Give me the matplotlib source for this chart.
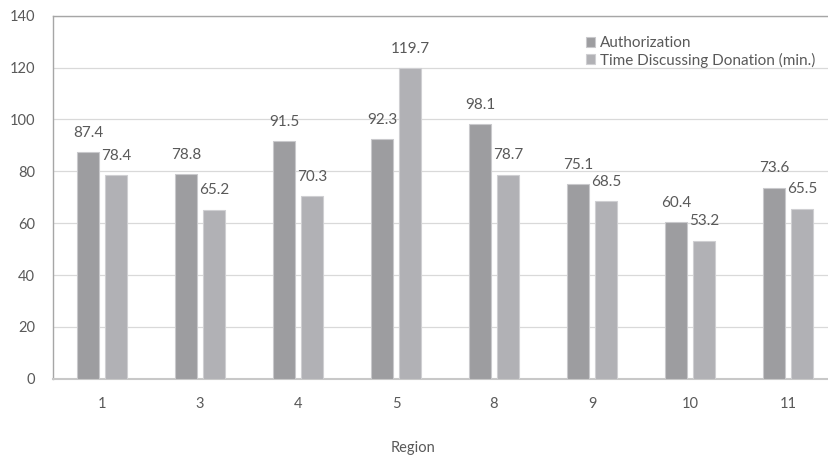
import numpy as np
import matplotlib
matplotlib.use("Agg")
from matplotlib import pyplot as plt

regions = ["1", "3", "4", "5", "8", "9", "10", "11"]
authorization = [87.4, 78.8, 91.5, 92.3, 98.1, 75.1, 60.4, 73.6]
time_discussing = [78.4, 65.2, 70.3, 119.7, 78.7, 68.5, 53.2, 65.5]

plt.rcParams['font.family'] = ['Lato', 'DejaVu Sans']
txt = '#595959'

fig = plt.figure(figsize=(8.29, 4.58), dpi=100)
ax = fig.add_axes([0.0639, 0.1731, 0.9457, 0.7926])

x = np.arange(len(regions))
w = 0.225
off = 0.143
b1 = ax.bar(x - off, authorization, w, color='#9d9da0', edgecolor='#c9c9cc',
            linewidth=0.8, label='Authorization', zorder=3)
b2 = ax.bar(x + off, time_discussing, w, color='#b1b1b5', edgecolor='#cfcfd2',
            linewidth=0.8, label='Time Discussing Donation (min.)', zorder=3)

for bars, vals in ((b1, authorization), (b2, time_discussing)):
    for r, v in zip(bars, vals):
        ax.annotate("%.1f" % v, (r.get_x() + r.get_width() / 2, v),
                    xytext=(0, 14), textcoords='offset points',
                    ha='center', va='center', fontsize=11, color=txt, zorder=4)

ax.set_xlim(-0.5, len(regions) - 0.5)
ax.set_ylim(0, 140)
ax.set_yticks(np.arange(0, 141, 20))
ax.set_xticks(x)
ax.set_xticklabels(regions)
ax.yaxis.grid(True, color='#d9d9d9', linewidth=0.9, zorder=0)
ax.tick_params(length=0, labelsize=10.5, colors=txt)
ax.tick_params(axis='x', pad=13)
ax.tick_params(axis='y', pad=13)

for s in ('left', 'top'):
    ax.spines[s].set_color('#a6a6a6')
    ax.spines[s].set_linewidth(1.0)
ax.spines['bottom'].set_color('#c8c8c8')
ax.spines['bottom'].set_linewidth(1.5)
ax.spines['right'].set_visible(False)

fig.text(413 / 829, 1 - 448 / 458, 'Region', ha='center', va='center',
         fontsize=10.5, color=txt)

leg = ax.legend(loc='upper left', bbox_to_anchor=(0.672, 0.96), frameon=False,
                fontsize=11, handlelength=0.6, handleheight=0.6, handletextpad=0.3,
                labelspacing=0.15, borderaxespad=0)
for t in leg.get_texts():
    t.set_color(txt)

plt.savefig('out.png', dpi=100)
